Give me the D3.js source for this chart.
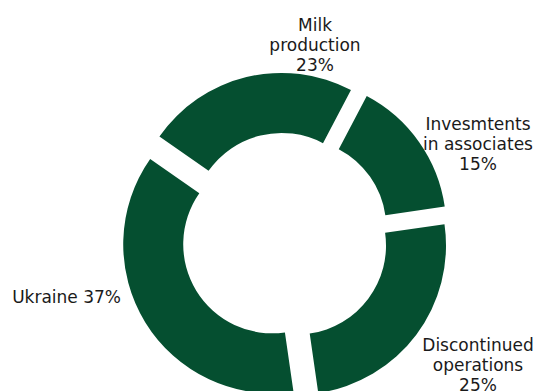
<!DOCTYPE html>
<html>
<head>
<meta charset="utf-8">
<script src="https://cdn.jsdelivr.net/npm/d3@7"></script>
<style>
  html, body { margin: 0; padding: 0; background: #fff; }
  svg { display: block; }
</style>
</head>
<body>
<svg id="chart"></svg>
<script>
const w = 538;
const h = 391;

// data
const categories = ['Milk production', 'Invesmtents in associates', 'Discontinued operations', 'Ukraine'];
const shares = [23, 15, 25, 37];
const labelLines = [['Milk', 'production'], ['Invesmtents', 'in associates'], ['Discontinued', 'operations'], []];
const inlinePercent = [false, false, false, true];

// layout
const cx = 285;
const cy = 236.5;
const outerR = 149;
const innerR = 89;
const explode = 15;
const startDeg = -55;
const lineH = 20;
const green = '#054f30';
// label anchor offsets from the centre, first baseline
const labelSpots = [
	{ dx: 30, dy: -206, anchor: 'middle' },
	{ dx: 193, dy: -107, anchor: 'middle' },
	{ dx: 193, dy: 114, anchor: 'middle' },
	{ dx: -164, dy: 66, anchor: 'end' },
];

let svg = d3.select('#chart').attr('width', w).attr('height', h);

const data = categories.map((c, i) => ({ name: c, value: shares[i], i: i }));

const pie = d3
	.pie()
	.sort(null)
	.value((d) => d.value)
	.startAngle((startDeg * Math.PI) / 180)
	.endAngle(((startDeg + 360) * Math.PI) / 180);

const arc = d3.arc().innerRadius(innerR).outerRadius(outerR);

const g = svg.append('g').attr('transform', `translate(${cx},${cy})`);

g.selectAll('path')
	.data(pie(data))
	.enter()
	.append('path')
	.attr('d', arc)
	.attr('fill', green)
	.attr('transform', (d) => {
		let mid = (d.startAngle + d.endAngle) / 2;
		return `translate(${Math.sin(mid) * explode},${-Math.cos(mid) * explode})`;
	});

const labels = g
	.selectAll('text.label')
	.data(data)
	.enter()
	.append('text')
	.attr('class', 'label')
	.attr('font-family', 'DejaVu Sans, Verdana, sans-serif')
	.attr('font-size', 17)
	.attr('fill', '#1a1a1a')
	.attr('text-anchor', (d) => labelSpots[d.i].anchor)
	.attr('x', (d) => labelSpots[d.i].dx)
	.attr('y', (d) => labelSpots[d.i].dy);

labels.each(function (d) {
	let lines = labelLines[d.i].slice();
	if (inlinePercent[d.i]) {
		lines = [d.name + ' ' + d.value + '%'];
	} else {
		lines.push(d.value + '%');
	}
	let t = d3.select(this);
	lines.forEach((line, k) => {
		t.append('tspan')
			.attr('x', labelSpots[d.i].dx)
			.attr('dy', k === 0 ? 0 : lineH)
			.text(line);
	});
});
</script>
</body>
</html>
